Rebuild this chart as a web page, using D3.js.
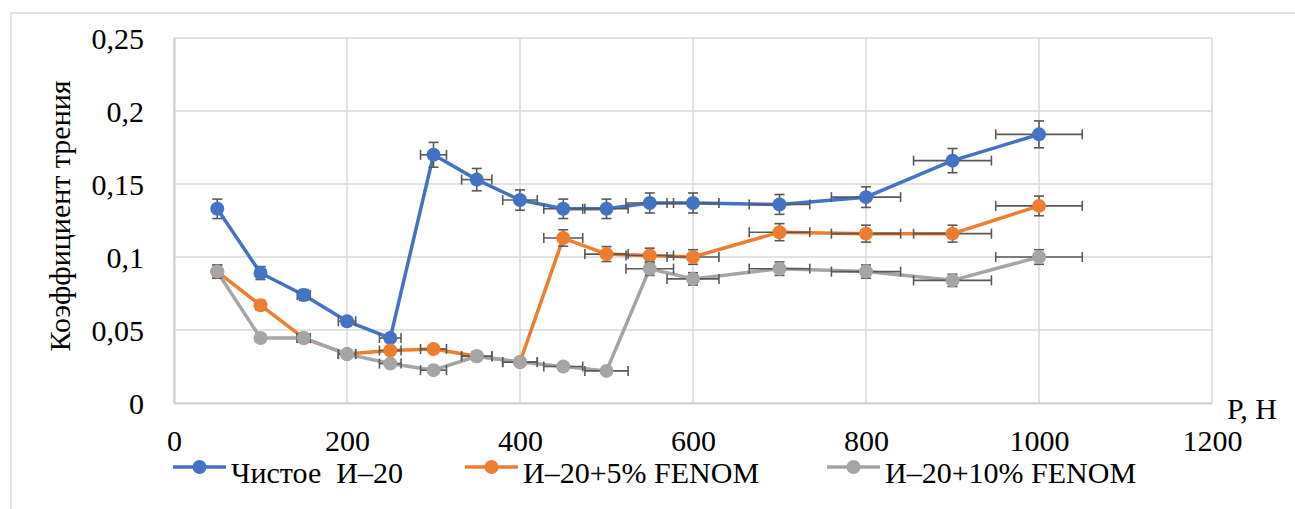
<!DOCTYPE html>
<html>
  <head>
    <meta charset="UTF-8" />
    <title>Коэффициент трения</title>
    <style>
      body {
        margin: 0;
        background: #fff;
      }
      svg text {
        font-family: "Liberation Serif", "Times New Roman", Tinos, FreeSerif !important;
      }
      .grid line {
        stroke: #d9d9d9;
        stroke-width: 1.5;
      }
    </style>
  </head>
  <body>
    <div class="chart"></div>

    <script src="https://d3js.org/d3.v7.min.js"></script>

    <script>
      // данные с графика
      const loads = [50, 100, 150, 200, 250, 300, 350, 400, 450, 500, 550, 600, 700, 800, 900, 1000];
      const pure = [0.133, 0.089, 0.074, 0.056, 0.0445, 0.17, 0.153, 0.139, 0.133, 0.133, 0.137, 0.137, 0.136, 0.141, 0.166, 0.184];
      const fenom5 = [0.09, 0.067, 0.0445, 0.0335, 0.036, 0.037, 0.032, 0.028, 0.113, 0.102, 0.101, 0.1, 0.117, 0.116, 0.116, 0.135];
      const fenom10 = [0.09, 0.0445, 0.0445, 0.0335, 0.027, 0.0225, 0.032, 0.028, 0.025, 0.022, 0.092, 0.085, 0.092, 0.09, 0.084, 0.1];
      const seriesNames = ["Чистое  И–20", "И–20+5% FENOM", "И–20+10% FENOM"];
      const xTicks = [0, 200, 400, 600, 800, 1000, 1200];
      const yTicks = [0, 0.05, 0.1, 0.15, 0.2, 0.25];
      // погрешность в процентах (как в Excel)
      const errPct = 0.05;

      const colors = ["#4472c4", "#ed7d31", "#a5a5a5"];
      const allSeries = [pure, fenom5, fenom10];
      const font = '"Liberation Serif", "Times New Roman", Tinos';
      const fontSize = "30px";

      const w = 1295;
      const h = 509;
      const plot = { left: 174, right: 1212, top: 38, bottom: 403 };

      const svg = d3
        .select("body")
        .append("svg")
        .attr("width", w)
        .attr("height", h)
        .style("font-family", font);

      // рамка диаграммы
      svg
        .append("rect")
        .attr("x", 11)
        .attr("y", 13)
        .attr("width", w + 20)
        .attr("height", h + 20)
        .attr("fill", "none")
        .attr("stroke", "#d9d9d9")
        .attr("stroke-width", 1.5);

      const xScale = d3.scaleLinear().domain([0, 1200]).range([plot.left, plot.right]);
      const yScale = d3.scaleLinear().domain([0, 0.25]).range([plot.bottom, plot.top]);

      // сетка
      const grid = svg.append("g").attr("class", "grid");
      grid
        .selectAll(".gx")
        .data(xTicks)
        .enter()
        .append("line")
        .attr("x1", (d) => xScale(d))
        .attr("x2", (d) => xScale(d))
        .attr("y1", plot.top)
        .attr("y2", plot.bottom);
      grid
        .selectAll(".gy")
        .data(yTicks)
        .enter()
        .append("line")
        .attr("x1", plot.left)
        .attr("x2", plot.right)
        .attr("y1", (d) => yScale(d))
        .attr("y2", (d) => yScale(d));

      // ось X
      const xAxis = d3
        .axisBottom(xScale)
        .tickValues(xTicks)
        .tickSize(0)
        .tickPadding(27)
        .tickFormat(d3.format("d"));
      const gx = svg
        .append("g")
        .attr("transform", `translate(0, ${plot.bottom})`)
        .call(xAxis)
        .attr("font-family", null)
        .attr("font-size", null);
      gx.select(".domain").attr("stroke", "#d0d0d0").attr("stroke-width", 2);
      gx.selectAll("text")
        .attr("fill", "#000")
        .style("font-family", font)
        .style("font-size", fontSize);

      // ось Y
      const fmt = (d) => String(d).replace(".", ",");
      const yAxis = d3.axisLeft(yScale).tickValues(yTicks).tickSize(0).tickPadding(30).tickFormat(fmt);
      const gy = svg
        .append("g")
        .attr("transform", `translate(${plot.left}, 0)`)
        .call(yAxis)
        .attr("font-family", null)
        .attr("font-size", null);
      gy.select(".domain").attr("stroke", "#d0d0d0").attr("stroke-width", 2);
      gy.selectAll("text")
        .attr("fill", "#000")
        .style("font-family", font)
        .style("font-size", fontSize)
        .attr("dy", "0.36em");

      // подписи осей
      svg
        .append("text")
        .attr("transform", "translate(70, 216) rotate(-90)")
        .attr("text-anchor", "middle")
        .style("font-family", font)
        .style("font-size", fontSize)
        .text("Коэффициент трения");

      svg
        .append("text")
        .attr("x", 1227)
        .attr("y", 419)
        .style("font-family", font)
        .style("font-size", fontSize)
        .text("P, H");

      const line = d3
        .line()
        .x((d, i) => xScale(loads[i]))
        .y((d) => yScale(d));

      allSeries.forEach((values, s) => {
        const g = svg.append("g");

        g.append("path")
          .datum(values)
          .attr("d", line)
          .attr("fill", "none")
          .attr("stroke", colors[s])
          .attr("stroke-width", 3.5)
          .attr("stroke-linejoin", "round");

        // усы погрешности
        const bars = g
          .selectAll(".err")
          .data(values)
          .enter()
          .append("g")
          .attr("stroke", "#595959")
          .attr("stroke-width", 1.6);

        bars.each(function (d, i) {
          const b = d3.select(this);
          const cx = xScale(loads[i]);
          const cy = yScale(d);
          const dx = loads[i] * errPct;
          const dy = d * errPct;
          const x0 = xScale(loads[i] - dx);
          const x1 = xScale(loads[i] + dx);
          const y0 = yScale(d - dy);
          const y1 = yScale(d + dy);
          b.append("line").attr("x1", x0).attr("x2", x1).attr("y1", cy).attr("y2", cy);
          b.append("line").attr("x1", x0).attr("x2", x0).attr("y1", cy - 5).attr("y2", cy + 5);
          b.append("line").attr("x1", x1).attr("x2", x1).attr("y1", cy - 5).attr("y2", cy + 5);
          b.append("line").attr("x1", cx).attr("x2", cx).attr("y1", y0).attr("y2", y1);
          b.append("line").attr("x1", cx - 5).attr("x2", cx + 5).attr("y1", y0).attr("y2", y0);
          b.append("line").attr("x1", cx - 5).attr("x2", cx + 5).attr("y1", y1).attr("y2", y1);
        });

        g.selectAll("circle")
          .data(values)
          .enter()
          .append("circle")
          .attr("cx", (d, i) => xScale(loads[i]))
          .attr("cy", (d) => yScale(d))
          .attr("r", 7)
          .attr("fill", colors[s]);
      });

      // легенда
      const legendX = [173, 465, 827];
      const legend = svg
        .selectAll(".legend")
        .data(seriesNames)
        .enter()
        .append("g")
        .attr("transform", (d, i) => `translate(${legendX[i]}, 467)`);
      legend
        .append("line")
        .attr("x1", 0)
        .attr("x2", 53)
        .attr("stroke", (d, i) => colors[i])
        .attr("stroke-width", 3.5);
      legend
        .append("circle")
        .attr("cx", 26.5)
        .attr("r", 7)
        .attr("fill", (d, i) => colors[i]);
      legend
        .append("text")
        .attr("x", 58)
        .attr("y", 16)
        .style("font-family", font)
        .style("font-size", fontSize)
        .style("white-space", "pre")
        .text((d) => d);
    </script>
  </body>
</html>
